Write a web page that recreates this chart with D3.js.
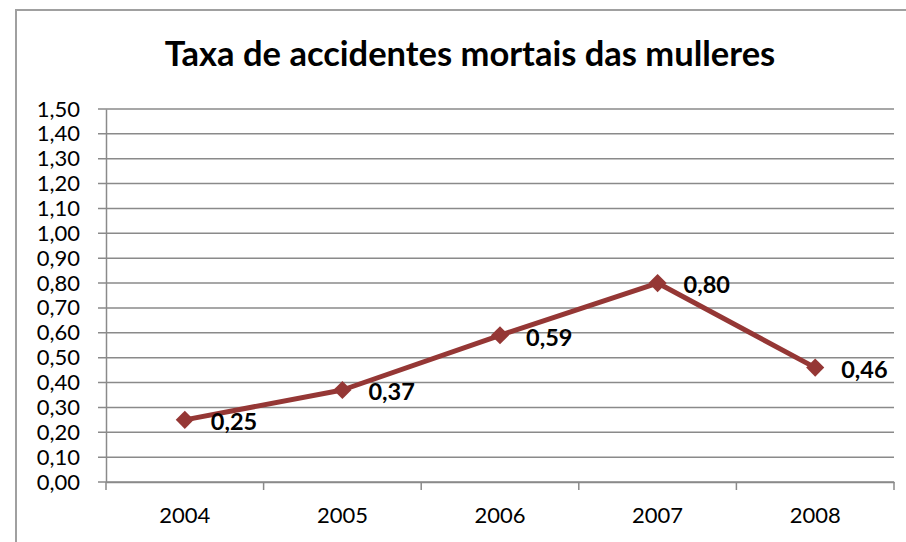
<!DOCTYPE html>
<html>
<head>
    <title>Taxa de accidentes mortais das mulleres</title>
    <script src="https://d3js.org/d3.v7.min.js"></script>
    <style>
        body { margin: 0; background: #fff; }
        text { font-family: Lato, "Open Sans", sans-serif; }
    </style>
</head>
<body>
    <div id="chart"></div>
   <script>
const years = ["2004", "2005", "2006", "2007", "2008"];
const rates = [0.25, 0.37, 0.59, 0.80, 0.46];
const yTicks = [0, 0.1, 0.2, 0.3, 0.4, 0.5, 0.6, 0.7, 0.8, 0.9, 1.0, 1.1, 1.2, 1.3, 1.4, 1.5];
const title = "Taxa de accidentes mortais das mulleres";

const data = years.map((y, i) => ({ year: y, value: rates[i] }));
const fmt = v => d3.format(".2f")(v).replace(".", ",");

const W = 906, H = 542;
const margin = { top: 109, right: 12, bottom: 60, left: 106 };
const width = 894 - margin.left;
const height = 482 - margin.top;

const svg = d3.select("#chart")
    .append("svg")
    .attr("width", W)
    .attr("height", H);

// outer chart border
svg.append("rect")
    .attr("x", 16).attr("y", 10)
    .attr("width", 906).attr("height", 560)
    .attr("fill", "none")
    .attr("stroke", "#a0a0a0")
    .attr("stroke-width", 2);

svg.append("text")
    .attr("x", 470)
    .attr("y", 66)
    .attr("text-anchor", "middle")
    .attr("font-size", 34.5)
    .attr("font-weight", "bold")
    .text(title);

const g = svg.append("g")
    .attr("transform", `translate(${margin.left}, ${margin.top})`);

const x = d3.scaleBand()
    .domain(years)
    .range([0, width]);

const y = d3.scaleLinear()
    .domain([0, 1.5])
    .range([height, 0]);

// gridlines + y ticks
g.selectAll(".grid")
    .data(yTicks)
    .enter()
    .append("line")
    .attr("x1", -8)
    .attr("x2", width)
    .attr("y1", d => y(d))
    .attr("y2", d => y(d))
    .attr("stroke", "#8a8a8a")
    .attr("stroke-width", 1.5);

// y axis labels
const yAxis = g.append("g")
    .call(d3.axisLeft(y).tickValues(yTicks).tickFormat(fmt).tickSize(0).tickPadding(26));
yAxis.select(".domain").attr("stroke", "#8a8a8a").attr("stroke-width", 1.5);
yAxis.selectAll("text").attr("font-size", 22).attr("fill", "#000")
    .style("font-family", "Lato, sans-serif");

// x axis
const xAxis = g.append("g")
    .attr("transform", `translate(0, ${height})`)
    .call(d3.axisBottom(x).tickSize(0).tickPadding(25));
xAxis.select(".domain").attr("stroke", "#8a8a8a").attr("stroke-width", 1.5);
xAxis.selectAll("text").attr("font-size", 22).attr("fill", "#000")
    .style("font-family", "Lato, sans-serif");

// x tick marks at category boundaries
const bounds = years.map(d => x(d)).concat([x.range()[1]]);
g.selectAll(".xtick")
    .data(bounds)
    .enter()
    .append("line")
    .attr("x1", d => d).attr("x2", d => d)
    .attr("y1", height).attr("y2", height + 8)
    .attr("stroke", "#8a8a8a")
    .attr("stroke-width", 1.5);

const cx = d => x(d.year) + x.bandwidth() / 2;

const line = d3.line()
    .x(cx)
    .y(d => y(d.value));

g.append("path")
    .datum(data)
    .attr("fill", "none")
    .attr("stroke", "#953735")
    .attr("stroke-width", 5)
    .attr("stroke-linejoin", "round")
    .attr("d", line);

g.selectAll(".pt")
    .data(data)
    .enter()
    .append("path")
    .attr("transform", d => `translate(${cx(d)}, ${y(d.value)})`)
    .attr("d", d3.symbol().type(d3.symbolDiamond2).size(210))
    .attr("fill", "#953735");

g.selectAll(".lbl")
    .data(data)
    .enter()
    .append("text")
    .attr("x", d => cx(d) + 26)
    .attr("y", d => y(d.value) + 2)
    .attr("dy", "0.35em")
    .attr("font-size", 23.5)
    .attr("font-weight", "bold")
    .text(d => fmt(d.value));
   </script>
</body>
</html>
